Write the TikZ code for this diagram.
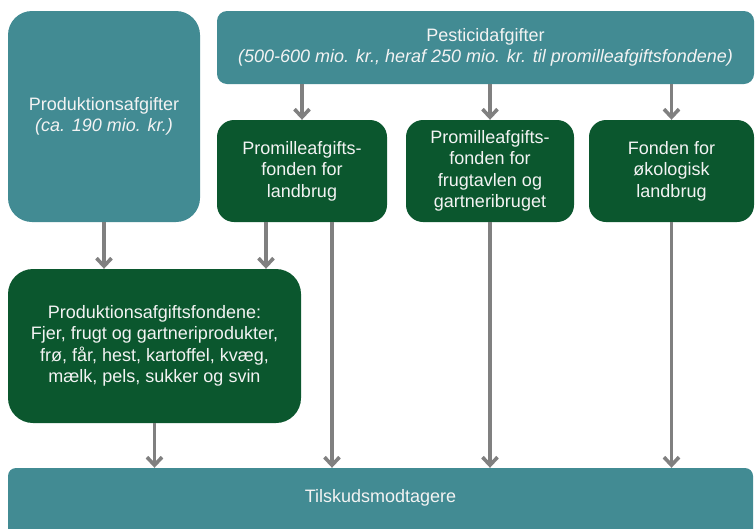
\documentclass[tikz,border=0pt]{standalone}
\usepackage{fontspec}
\setmainfont{Liberation Sans}
\usetikzlibrary{arrows.meta}
\definecolor{tealbg}{RGB}{66,139,147}
\definecolor{greenbg}{RGB}{11,87,46}
\definecolor{arrgray}{RGB}{128,128,128}
\definecolor{txtwhite}{RGB}{243,243,243}
\begin{document}
\begin{tikzpicture}[x=1pt,y=-1pt,
  boxbase/.style={rectangle, align=center, text=txtwhite, inner sep=0pt,
    font=\fontsize{18}{21.5}\selectfont},
  tealbox/.style={boxbase, fill=tealbg},
  greenbox/.style={boxbase, fill=greenbg},
  flow/.style={draw=arrgray, line width=3.6pt, -{Straight Barb[length=8pt,width=15pt]}},
  flowline/.style={draw=arrgray, line width=3.6pt}
]
\useasboundingbox (0,0) rectangle (755,528);
% top row
\node[tealbox, minimum width=192pt, minimum height=211pt, rounded corners=24pt] (prod) at (104,116.5)
  {Produktionsafgifter\\\textit{(ca. 190 mio. kr.)}};
\node[tealbox, minimum width=537pt, minimum height=73pt, rounded corners=10pt] (pest) at (485.5,47.5)
  {Pesticidafgifter\\\textit{(500-600 mio. kr., heraf 250 mio. kr. til promilleafgiftsfondene)}};
% green funds
\node[greenbox, minimum width=170pt, minimum height=102pt, rounded corners=17pt] (pl) at (302,171)
  {Promilleafgifts-\\fonden for\\landbrug};
\node[greenbox, minimum width=168pt, minimum height=102pt, rounded corners=17pt] (pf) at (490,171)
  {Promilleafgifts-\\fonden for\\frugtavlen og\\gartneribruget};
\node[greenbox, minimum width=165pt, minimum height=102pt, rounded corners=17pt] (po) at (671.5,171)
  {Fonden for\\økologisk\\landbrug};
\node[greenbox, minimum width=293pt, minimum height=154pt, rounded corners=25pt] (fond) at (154.5,346)
  {Produktionsafgiftsfondene:\\Fjer, frugt og gartneriprodukter,\\frø, får, hest, kartoffel, kvæg,\\mælk, pels, sukker og svin};
% bottom box (clipped by page bottom)
\fill[tealbg, rounded corners=8pt] (8,545) -- (8,468) -- (753,468) -- (753,545) -- cycle;
\node[boxbase, minimum width=745pt, minimum height=60pt] (tilsk) at (380.5,498) {Tilskudsmodtagere};
% arrows
\draw[flow] (prod.south) -- (prod.south |- fond.north);
\draw[flow] ([xshift=-36pt]pl.south) -- ([xshift=-36pt]pl.south |- fond.north);
\draw[flow] (pl.north |- pest.south) -- (pl.north);
\draw[flow] (pf.north |- pest.south) -- (pf.north);
\draw[flow] (po.north |- pest.south) -- (po.north);
\draw[flow] ([xshift=30pt]pl.south) -- ([xshift=30pt]pl.south |- tilsk.north);
\draw[flow] (pf.south) -- (pf.south |- tilsk.north);
\draw[flow] (po.south) -- (po.south |- tilsk.north);
\draw[flow] (fond.south) -- (fond.south |- tilsk.north);
\end{tikzpicture}
\end{document}
